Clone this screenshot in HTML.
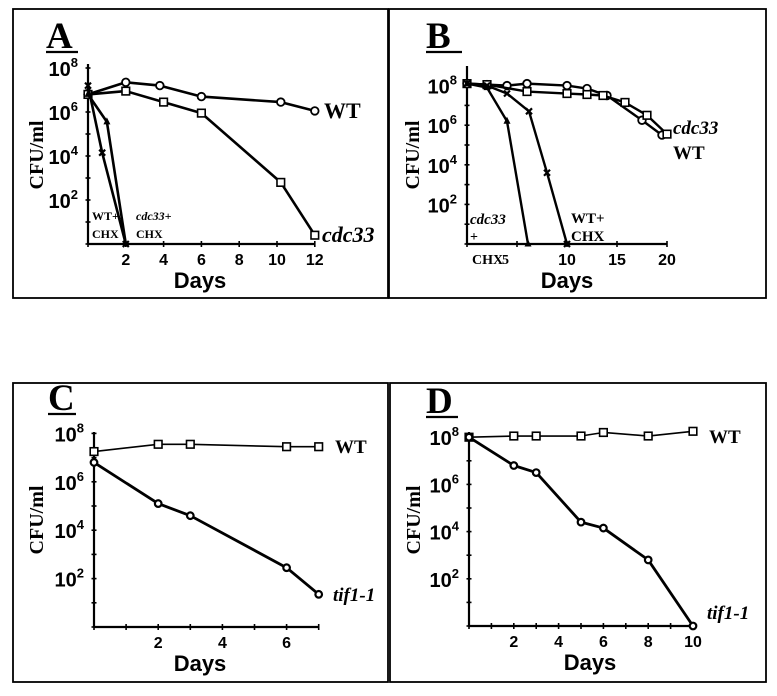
<!DOCTYPE html>
<html><head><meta charset="utf-8">
<style>
html,body{margin:0;padding:0;background:#fff;}
svg{display:block;}
.tl{font-family:"Liberation Sans",sans-serif;font-weight:bold;font-size:20px;}
.xl{font-family:"Liberation Sans",sans-serif;font-weight:bold;font-size:16px;}
.tt{font-family:"Liberation Sans",sans-serif;font-weight:bold;font-size:22px;}
.yl{font-family:"Liberation Serif",serif;font-weight:bold;font-size:20px;}
.lb{font-family:"Liberation Serif",serif;font-weight:bold;}
</style></head>
<body>
<svg id="fig" width="777" height="696" viewBox="0 0 777 696" xmlns="http://www.w3.org/2000/svg"></svg>
<script>
// Panel A data (days, log10 CFU/ml)
const aWTx=[0,2,3.8,6,10.2,12];
const aWTy=[6.8,7.35,7.2,6.7,6.45,6.05];
const aCdcx=[0,2,4,6,10.2,12];
const aCdcy=[6.8,6.95,6.45,5.95,2.8,0.4];
const aWTchxx=[0,0.75,2];
const aWTchxy=[7.2,4.15,0];
const aCdcchxx=[0,1.0,2];
const aCdcchxy=[6.8,5.55,0];
const aXTicks=[2,4,6,8,10,12];
// Panel B data
const bWTx=[0,2,4,6,10,12,14,17.5,19.5];
const bWTy=[8.1,8.05,8.0,8.1,8.0,7.85,7.5,6.25,5.5];
const bCdcx=[0,2,6,10,12,13.6,15.8,18,20];
const bCdcy=[8.1,8.05,7.7,7.6,7.55,7.5,7.15,6.5,5.55];
const bCdcchxx=[0,2,4,6.1];
const bCdcchxy=[8.1,7.9,6.2,0];
const bWTchxx=[0,2,4,6.2,8,10];
const bWTchxy=[8.1,8.0,7.6,6.7,3.6,0];
const bXTicks=[10,15,20];
// Panel C data
const cWTx=[0,2,3,6,7];
const cWTy=[7.25,7.55,7.55,7.45,7.45];
const cTifx=[0,2,3,6,7];
const cTify=[6.8,5.1,4.6,2.45,1.35];
const cXTicks=[2,4,6];
// Panel D data
const dWTx=[0,2,3,5,6,8,10];
const dWTy=[8.0,8.05,8.05,8.05,8.2,8.05,8.25];
const dTifx=[0,2,3,5,6,8,10];
const dTify=[8.0,6.8,6.5,4.4,4.15,2.8,0];
const dXTicks=[2,4,6,8,10];
const yTickLogs=[8,6,4,2];

const NS="http://www.w3.org/2000/svg";
const svg=document.getElementById('fig');
function mk(tag,attrs,parent,text){
  const e=document.createElementNS(NS,tag);
  for(const k in attrs)e.setAttribute(k,attrs[k]);
  if(text!==undefined)e.textContent=text;
  (parent||svg).appendChild(e);return e;
}
function marker(g,type,px,py){
  let m;
  if(type==='circle'){m=mk('circle',{cx:px,cy:py,r:3.8,fill:'#fff',stroke:'#000','stroke-width':1.8},g);}
  else if(type==='square'){m=mk('rect',{x:px-3.8,y:py-3.8,width:7.6,height:7.6,fill:'#fff',stroke:'#000','stroke-width':1.6},g);}
  else if(type==='diamond'){m=mk('circle',{cx:px,cy:py,r:3.3,fill:'#fff',stroke:'#000','stroke-width':2.2},g);}
  else if(type==='tri'){m=mk('polygon',{points:`${px},${py-4.5} ${px-3.5},${py+2.5} ${px+3.5},${py+2.5}`,fill:'#000'},g);}
  else {m=mk('path',{d:`M${px-3},${py-3}L${px+3},${py+3}M${px+3},${py-3}L${px-3},${py+3}`,stroke:'#000','stroke-width':2.2},g);}
  
  
}
function series(g,X,Y,xs,ys,type,w,name){
  const sg=mk('g',{},g);
  
  
  const pts=xs.map((d,i)=>X(d)+','+Y(ys[i])).join(' ');
  mk('polyline',{points:pts,fill:'none',stroke:'#000','stroke-width':w,'stroke-linejoin':'round'},sg);
  xs.forEach((d,i)=>marker(sg,type,X(d),Y(ys[i])));
}
function panel(p){
  const g=mk('g',{});
  
  
  mk('rect',{x:p.box[0],y:p.box[1],width:p.box[2],height:p.box[3],fill:'none',stroke:'#000','stroke-width':1.8},g);
  const L=mk('text',{x:p.lx,y:p.ly,class:'lb','font-size':37},g,p.letter);
  
  mk('line',{x1:p.lx,x2:p.lx+p.ulw,y1:p.ly+4,y2:p.ly+4,stroke:'#000','stroke-width':2.2},g);
  const X=d=>p.x0+p.xs*d, Y=v=>p.y0-p.ys*v;
  const ax=mk('g',{},g);
  mk('line',{x1:p.x0,x2:p.x0,y1:p.y0,y2:p.yTop,stroke:'#000','stroke-width':2.2},ax);
  mk('line',{x1:p.x0,x2:X(p.xMax),y1:p.y0,y2:p.y0,stroke:'#000','stroke-width':2.2},ax);
  for(let v=0;v<=p.yMaxTick;v++){mk('line',{x1:p.x0-2.5,x2:p.x0+2.5,y1:Y(v),y2:Y(v),stroke:'#000','stroke-width':1.6},ax);}
  for(let d=0;d<=p.xMax;d+=p.xMinor){mk('line',{x1:X(d),x2:X(d),y1:p.y0-3,y2:p.y0+3,stroke:'#000','stroke-width':1.6},ax);}
  yTickLogs.forEach(v=>{
    const t=mk('text',{x:p.x0-10,y:Y(v)+8,class:'tl','text-anchor':'end'},ax);
    
    t.appendChild(document.createTextNode('10'));
    mk('tspan',{dy:-9,'font-size':13},t,String(v));
  });
  p.xt.forEach(d=>{
    const t=mk('text',{x:X(d),y:p.y0+21,class:'xl','text-anchor':'middle'},ax,String(d));
    
  });
  const xt=mk('text',{x:p.xtx,y:p.y0+44,class:'tt','text-anchor':'middle'},ax,'Days');
  
  const yt=mk('text',{x:0,y:0,class:'yl','text-anchor':'middle',transform:`translate(${p.box[0]+30},${p.ytc}) rotate(-90)`},ax,'CFU/ml');
  
  return {g,X,Y};
}
function label(g,x,y,txt,size,italic,name){
  const t=mk('text',{x:x,y:y,class:'lb','font-size':size,'font-style':italic?'italic':'normal'},g,txt);
  
}
// A
let P=panel({letter:'A',box:[13,9,375,289],lx:46,ly:48,ulw:32,x0:88,xs:18.9,y0:244,ys:22,yTop:64,yMaxTick:8,xMax:12,xMinor:2,xt:aXTicks,xtx:200,ytc:155});
series(P.g,P.X,P.Y,aWTx,aWTy,'circle',2.6,'wt-series');
series(P.g,P.X,P.Y,aCdcx,aCdcy,'square',2.6,'cdc33-series');
series(P.g,P.X,P.Y,aWTchxx,aWTchxy,'star',2.6,'wt-chx-series');
series(P.g,P.X,P.Y,aCdcchxx,aCdcchxy,'tri',2.6,'cdc33-chx-series');
label(P.g,324,118,'WT',22,false,'wt-label');
label(P.g,322,242,'cdc33',22,true,'cdc33-label');
label(P.g,92,220,'WT+',12,false,'wt-chx-label');
label(P.g,92,238,'CHX',12,false,'wt-chx-label');
label(P.g,136,220,'cdc33+',12,true,'cdc33-chx-label');
label(P.g,136,238,'CHX',12,false,'cdc33-chx-label');
// B
P=panel({letter:'B',box:[389,9,377,289],lx:426,ly:48,ulw:36,x0:467,xs:10,y0:244,ys:19.8,yTop:66,yMaxTick:8,xMax:20,xMinor:5,xt:bXTicks,xtx:567,ytc:155});
series(P.g,P.X,P.Y,bWTx,bWTy,'circle',2.4,'wt-series');
series(P.g,P.X,P.Y,bCdcx,bCdcy,'square',2.4,'cdc33-series');
series(P.g,P.X,P.Y,bCdcchxx,bCdcchxy,'tri',2.4,'cdc33-chx-series');
series(P.g,P.X,P.Y,bWTchxx,bWTchxy,'star',2.4,'wt-chx-series');
label(P.g,673,134,'cdc33',19,true,'cdc33-label');
label(P.g,673,159,'WT',19,false,'wt-label');
label(P.g,470,224,'cdc33',15,true,'cdc33-chx-label');
label(P.g,470,241,'+',14,false,'cdc33-chx-label');
label(P.g,472,264,'CHX',14,false,'cdc33-chx-label');
label(P.g,502,264,'5',14,false,'x-tick-label');
label(P.g,571,223,'WT+',15,false,'wt-chx-label');
label(P.g,571,241,'CHX',15,false,'wt-chx-label');
// C
P=panel({letter:'C',box:[13,383,375,299],lx:48,ly:410,ulw:28,x0:94,xs:32.1,y0:627,ys:24.2,yTop:432,yMaxTick:8,xMax:7,xMinor:1,xt:cXTicks,xtx:200,ytc:520});
series(P.g,P.X,P.Y,cWTx,cWTy,'square',1.6,'wt-series');
series(P.g,P.X,P.Y,cTifx,cTify,'diamond',2.8,'tif1-1-series');
label(P.g,335,453,'WT',19,false,'wt-label');
label(P.g,333,601,'tif1-1',19,true,'tif1-1-label');
// D
P=panel({letter:'D',box:[390,383,376,299],lx:426,ly:413,ulw:32,x0:469,xs:22.4,y0:626,ys:23.6,yTop:432,yMaxTick:8,xMax:10,xMinor:1,xt:dXTicks,xtx:590,ytc:520});
series(P.g,P.X,P.Y,dWTx,dWTy,'square',1.6,'wt-series');
series(P.g,P.X,P.Y,dTifx,dTify,'diamond',2.8,'tif1-1-series');
label(P.g,709,443,'WT',19,false,'wt-label');
label(P.g,707,619,'tif1-1',19,true,'tif1-1-label');
</script>
</body></html>
